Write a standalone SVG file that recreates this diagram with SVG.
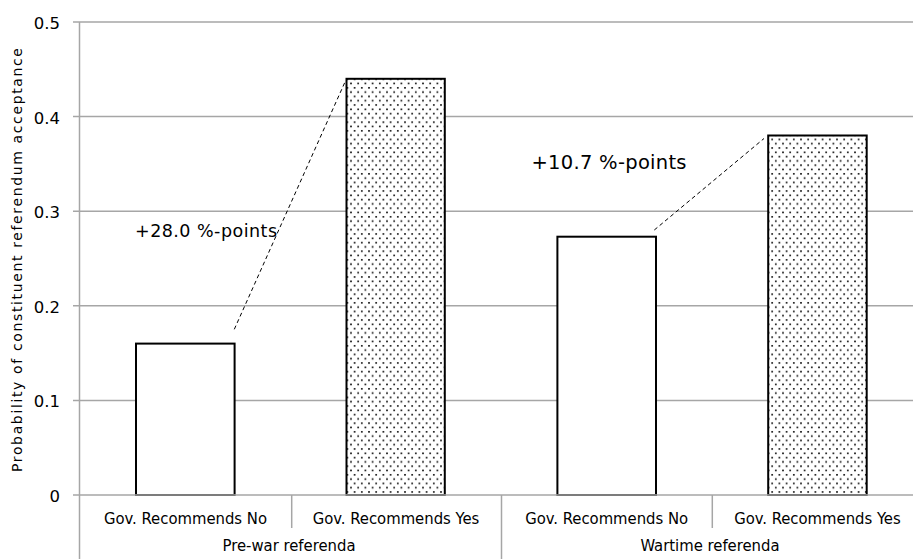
<svg xmlns="http://www.w3.org/2000/svg" width="913" height="559" viewBox="0 0 913 559">
<style>
.grid{stroke:#a6a6a6;stroke-width:1.5;fill:none}
.bar{stroke:#000;stroke-width:2;}
.tick{font-family:"DejaVu Sans",sans-serif;font-size:16.5px;fill:#000;text-anchor:end}
.cat{font-family:"DejaVu Sans Condensed","DejaVu Sans",sans-serif;font-stretch:condensed;font-size:16.5px;fill:#000;text-anchor:middle}
.ann{font-family:"DejaVu Sans",sans-serif;fill:#000}
.dash{stroke:#000;stroke-width:1;stroke-dasharray:4,3;fill:none}
</style>
<defs>
<pattern id="dots" patternUnits="userSpaceOnUse" width="7.2" height="8.6" x="0" y="0">
<rect width="7.2" height="8.6" fill="#fff"/>
<rect x="1" y="1" width="1.6" height="1.6" fill="#000"/>
<rect x="4.6" y="5.3" width="1.6" height="1.6" fill="#000"/>
</pattern>
</defs>
<rect width="913" height="559" fill="#fff"/>
<g id="gridlines">
<line class="grid" x1="73" y1="22" x2="913" y2="22"/>
<line class="grid" x1="73" y1="116.6" x2="913" y2="116.6"/>
<line class="grid" x1="73" y1="211.2" x2="913" y2="211.2"/>
<line class="grid" x1="73" y1="305.8" x2="913" y2="305.8"/>
<line class="grid" x1="73" y1="400.4" x2="913" y2="400.4"/>
</g>
<g id="y-axis">
<line class="grid" x1="79.5" y1="22" x2="79.5" y2="559"/>
<text class="tick" x="60" y="29">0.5</text>
<text class="tick" x="60" y="123.6">0.4</text>
<text class="tick" x="60" y="218.2">0.3</text>
<text class="tick" x="60" y="312.8">0.2</text>
<text class="tick" x="60" y="407.4">0.1</text>
<text class="tick" x="60" y="502">0</text>
<text transform="translate(22,260) rotate(-90)" font-family="DejaVu Sans, sans-serif" font-size="14" text-anchor="middle" textLength="424" lengthAdjust="spacing">Probability of constituent referendum acceptance</text>
</g>
<g id="bar-prewar-no"><rect class="bar" x="136" y="343.6" width="98.6" height="151.4" fill="#fff"/></g>
<g id="bar-prewar-yes"><rect class="bar" x="346.5" y="78.8" width="98.3" height="416.2" fill="url(#dots)"/></g>
<g id="bar-wartime-no"><rect class="bar" x="557.4" y="236.7" width="98.6" height="258.3" fill="#fff"/></g>
<g id="bar-wartime-yes"><rect class="bar" x="768.2" y="135.5" width="98.5" height="359.5" fill="url(#dots)"/></g>
<g id="x-axis">
<line class="grid" x1="73" y1="495" x2="913" y2="495"/>
<line class="grid" x1="291.7" y1="495" x2="291.7" y2="528"/>
<line class="grid" x1="501.5" y1="495" x2="501.5" y2="559"/>
<line class="grid" x1="712.3" y1="495" x2="712.3" y2="528"/>
<text class="cat" x="185.5" y="524">Gov. Recommends No</text>
<text class="cat" x="396" y="524">Gov. Recommends Yes</text>
<text class="cat" x="606.7" y="524">Gov. Recommends No</text>
<text class="cat" x="817.4" y="524">Gov. Recommends Yes</text>
<text class="cat" x="289" y="551">Pre-war referenda</text>
<text class="cat" x="710" y="551">Wartime referenda</text>
</g>
<g id="connectors">
<line class="dash" x1="234.3" y1="329.3" x2="345" y2="82"/>
<line class="dash" x1="654.3" y1="230" x2="764" y2="138.5"/>
</g>
<g id="annotations">
<text class="ann" x="135" y="237" font-size="17.5" textLength="142" lengthAdjust="spacing">+28.0 %-points</text>
<text class="ann" x="531.5" y="168.5" font-size="19.5" textLength="155" lengthAdjust="spacing">+10.7 %-points</text>
</g>
</svg>
